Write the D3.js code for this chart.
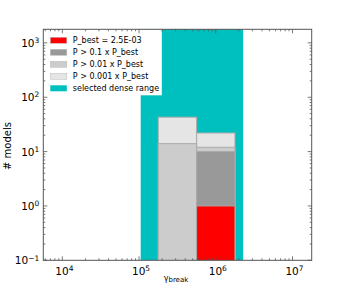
<!DOCTYPE html>
<html>
<head>
<meta charset="utf-8">
<script src="https://cdn.jsdelivr.net/npm/d3@7"></script>
<style>
  body { margin: 0; background: #fff; }
  text { font-family: "DejaVu Sans", sans-serif; }
</style>
</head>
<body>
<div id="chart"></div>
<script>
// histogram bins in log10(gamma_break)
const binEdges = [5.25, 5.75, 6.25]
// counts per bin for each probability threshold
const countBest = [0, 1]
const countP01 = [0, 10]
const countP001 = [14, 12]
const countP0001 = [43, 22]
const denseRange = [1.05e5, 2.27e6]
const legendLabels = ['P_best = 2.5E-03', 'P > 0.1 x P_best', 'P > 0.01 x P_best', 'P > 0.001 x P_best', 'selected dense range']
const xTicks = [1e4, 1e5, 1e6, 1e7]
const yTicks = [1e-1, 1e0, 1e1, 1e2, 1e3]

const width = 346
const height = 289
const margin = { top: 29.3, right: 34.3, bottom: 28.7, left: 43.3 }

const svg = d3.select('#chart').append('svg')
  .attr('width', width)
  .attr('height', height)

const x = d3.scaleLog()
  .domain([Math.pow(10, 3.752), Math.pow(10, 7.25)])
  .range([margin.left, width - margin.right])
const y = d3.scaleLog()
  .domain([0.1, Math.pow(10, 3.25)])
  .range([height - margin.bottom, margin.top])

// dense range band
svg.append('rect')
  .attr('x', x(denseRange[0]))
  .attr('y', y.range()[1])
  .attr('width', x(denseRange[1]) - x(denseRange[0]))
  .attr('height', y.range()[0] - y.range()[1])
  .attr('fill', '#00bfbf')

// overlaid histograms, drawn largest first
const series = [
  { counts: countP0001, color: '#e5e5e5' },
  { counts: countP001, color: '#cccccc' },
  { counts: countP01, color: '#999999' },
  { counts: countBest, color: '#ff0000' }
]
series.forEach(s => {
  s.counts.forEach((c, i) => {
    if (c <= 0) return
    const x0 = x(Math.pow(10, binEdges[i]))
    const x1 = x(Math.pow(10, binEdges[i + 1]))
    svg.append('rect')
      .attr('x', x0)
      .attr('y', y(c))
      .attr('width', x1 - x0)
      .attr('height', y.range()[0] - y(c) + 2)
      .attr('fill', s.color)
      .attr('stroke', '#aaaaaa')
      .attr('stroke-width', 1)
  })
})

// clip overflow below the axis
svg.append('rect')
  .attr('x', 0).attr('y', y.range()[0])
  .attr('width', width).attr('height', height - y.range()[0])
  .attr('fill', '#fff')

// legend
const legend = svg.append('g').attr('transform', `translate(${margin.left},${margin.top})`)
legend.append('rect')
  .attr('x', 0).attr('y', 0)
  .attr('width', 118.5).attr('height', 66)
  .attr('fill', '#fff')
const legendColors = ['#ff0000', '#999999', '#cccccc', '#e5e5e5', '#00bfbf']
legendLabels.forEach((lab, i) => {
  const yy = 11 + i * 12
  legend.append('rect')
    .attr('x', 7).attr('y', yy - 3)
    .attr('width', 16.5).attr('height', 6)
    .attr('fill', legendColors[i])
    .attr('stroke', i === 4 ? 'none' : '#bbbbbb')
    .attr('stroke-width', 0.5)
  legend.append('text')
    .attr('x', 29.5).attr('y', yy)
    .attr('dy', '0.35em')
    .style('font-size', '8px')
    .attr('fill', '#000')
    .text(lab)
})

// frame
const plotW = x.range()[1] - x.range()[0]
const plotH = y.range()[0] - y.range()[1]
svg.append('rect')
  .attr('x', margin.left).attr('y', margin.top)
  .attr('width', plotW).attr('height', plotH)
  .attr('fill', 'none')
  .attr('stroke', '#555')
  .attr('stroke-width', 1)

// ticks (inside, all four sides)
const xMinor = []
for (let e = 3; e < 8; e++) for (let m = 2; m < 10; m++) {
  const v = m * Math.pow(10, e)
  if (v > x.domain()[0] && v < x.domain()[1]) xMinor.push(v)
}
const yMinor = []
for (let e = -1; e < 4; e++) for (let m = 2; m < 10; m++) {
  const v = m * Math.pow(10, e)
  if (v > y.domain()[0] && v < y.domain()[1]) yMinor.push(v)
}
const ticks = svg.append('g').attr('stroke', '#555').attr('stroke-width', 0.8)
const y0 = y.range()[0], y1 = y.range()[1], xa = x.range()[0], xb = x.range()[1]
xTicks.forEach(v => {
  ticks.append('line').attr('x1', x(v)).attr('x2', x(v)).attr('y1', y0).attr('y2', y0 - 4)
  ticks.append('line').attr('x1', x(v)).attr('x2', x(v)).attr('y1', y1).attr('y2', y1 + 4)
})
xMinor.forEach(v => {
  ticks.append('line').attr('x1', x(v)).attr('x2', x(v)).attr('y1', y0).attr('y2', y0 - 2)
  ticks.append('line').attr('x1', x(v)).attr('x2', x(v)).attr('y1', y1).attr('y2', y1 + 2)
})
yTicks.forEach(v => {
  ticks.append('line').attr('x1', xa).attr('x2', xa + 4).attr('y1', y(v)).attr('y2', y(v))
  ticks.append('line').attr('x1', xb).attr('x2', xb - 4).attr('y1', y(v)).attr('y2', y(v))
})
yMinor.forEach(v => {
  ticks.append('line').attr('x1', xa).attr('x2', xa + 2).attr('y1', y(v)).attr('y2', y(v))
  ticks.append('line').attr('x1', xb).attr('x2', xb - 2).attr('y1', y(v)).attr('y2', y(v))
})

// tick labels as 10^n
function powLabel(g, v) {
  const e = Math.round(Math.log10(v))
  g.append('tspan').text('10')
  g.append('tspan').attr('dy', '-0.5em').style('font-size', '7.5px').text(e < 0 ? '\u2212' + (-e) : e)
}
xTicks.forEach(v => {
  const t = svg.append('text')
    .attr('x', x(v) + 2).attr('y', y0 + 14.5)
    .attr('text-anchor', 'middle')
    .style('font-size', '10.5px')
  powLabel(t, v)
})
yTicks.forEach(v => {
  const t = svg.append('text')
    .attr('x', xa - 4).attr('y', y(v) + 4)
    .attr('text-anchor', 'end')
    .style('font-size', '10.5px')
  powLabel(t, v)
})

// axis labels
const xl = svg.append('text')
  .attr('x', 176).attr('y', 281)
  .attr('text-anchor', 'middle')
  .style('font-size', '8px')
xl.append('tspan').text('\u03b3')
xl.append('tspan').attr('dy', '0.15em').style('font-size', '7px').text('break')

svg.append('text')
  .attr('transform', 'translate(11,146) rotate(-90)')
  .attr('text-anchor', 'middle')
  .style('font-size', '10px')
  .text('# models')
</script>
</body>
</html>
